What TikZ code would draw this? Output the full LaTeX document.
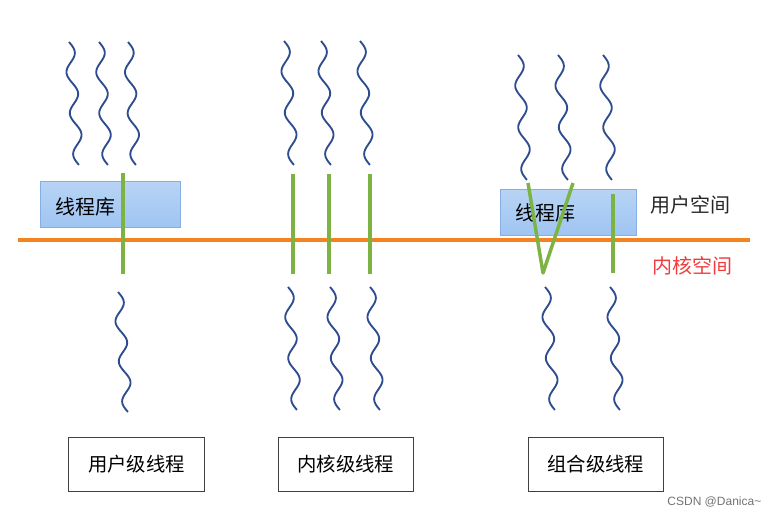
\documentclass[tikz,border=0pt]{standalone}
\usepackage{fontspec}
\setmainfont{Liberation Sans}
\newfontfamily\cjk{Noto Sans CJK SC}
\definecolor{wave}{HTML}{2E4D8F}
\definecolor{grn}{HTML}{7CB342}
\definecolor{org}{HTML}{F58220}
\definecolor{libfill}{HTML}{9FC5F2}
\definecolor{libdraw}{HTML}{86AEE3}
\definecolor{kred}{HTML}{F03C3C}
\tikzset{
  wavy/.style={wave, line width=1.4pt, smooth},
  thr/.style={grn, line width=2.6pt},
  libbox/.style={draw=libdraw, line width=0.6pt, top color=libfill!75!white, bottom color=libfill, inner sep=0pt, anchor=north west},
  lbl/.style={draw=black!75, line width=0.6pt, anchor=north west, inner sep=0pt, font=\cjk\fontsize{14.5}{16}\selectfont},
}
\newcommand{\wavyline}[4]{% x0 y0 x1 y1
  \draw[wavy] plot[domain=0:1, samples=80] ({#1+(#3-#1)*\x + 5*sin(1080*\x)}, {#2+(#4-#2)*\x});
}
\begin{document}
\begin{tikzpicture}[x=0.75pt, y=-0.75pt]
\useasboundingbox (0,0) rectangle (770,515);
% library boxes
\node[libbox, minimum width=140*0.75pt, minimum height=46*0.75pt] (libL) at (40,181) {};
\node[anchor=west, font=\cjk\fontsize{15}{16}\selectfont] (libLt) at (51,207) {线程库};
\node[libbox, minimum width=136*0.75pt, minimum height=46*0.75pt] (libR) at (500,189) {};
\node[anchor=west, font=\cjk\fontsize{15}{16}\selectfont] (libRt) at (511,213) {线程库};
% orange separator
\coordinate (sepL) at (18,240);
\coordinate (sepR) at (750,240);
\draw[org, line width=2.4pt] (sepL) -- (sepR);
\node[anchor=west, font=\cjk\fontsize{15}{16}\selectfont, text=black!85] (us) at (646,205) {用户空间};
\node[anchor=west, font=\cjk\fontsize{15}{16}\selectfont, text=kred] (ks) at (648,266) {内核空间};
% left group
\wavyline{69}{42}{79}{165}
\wavyline{99}{42}{108}{165}
\wavyline{128}{42}{136}{165}
\coordinate (gL1) at (123,173); \coordinate (gL2) at (123,274);
\draw[thr] (gL1) -- (gL2);
\wavyline{118}{292}{128}{412}
% middle group
\wavyline{284}{41}{294}{165}
\wavyline{321}{41}{331}{165}
\wavyline{360}{41}{370}{165}
\coordinate (m1a) at (293,174); \coordinate (m1b) at (293,274);
\coordinate (m2a) at (329,174); \coordinate (m2b) at (329,274);
\coordinate (m3a) at (370,174); \coordinate (m3b) at (370,274);
\draw[thr] (m1a) -- (m1b);
\draw[thr] (m2a) -- (m2b);
\draw[thr] (m3a) -- (m3b);
\wavyline{288}{287}{297}{410}
\wavyline{330}{287}{340}{410}
\wavyline{370}{287}{380}{410}
% right group
\wavyline{518}{55}{527}{180}
\wavyline{558}{55}{568}{180}
\wavyline{603}{55}{612}{180}
\coordinate (v1) at (528,183); \coordinate (v2) at (543,273); \coordinate (v3) at (573,183);
\draw[thr, line join=round] (v1) -- (v2) -- (v3);
\coordinate (r3a) at (613,194); \coordinate (r3b) at (613,273);
\draw[thr] (r3a) -- (r3b);
\wavyline{545}{287}{555}{410}
\wavyline{610}{287}{620}{410}
% bottom labels
\node[lbl, minimum width=136*0.75pt, minimum height=54*0.75pt] (b1) at (68,437) {用户级线程};
\node[lbl, minimum width=135*0.75pt, minimum height=54*0.75pt] (b2) at (278,437) {内核级线程};
\node[lbl, minimum width=135*0.75pt, minimum height=54*0.75pt] (b3) at (528,437) {组合级线程};
\node[anchor=east, font=\fontsize{9}{10}\selectfont, text=black!55] (wm) at (766,502) {CSDN @Danica\textasciitilde};
\end{tikzpicture}
\end{document}
